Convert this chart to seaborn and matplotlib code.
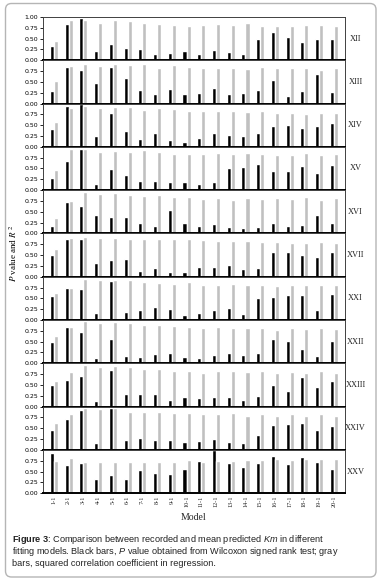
import matplotlib
matplotlib.use("Agg")
import matplotlib.pyplot as plt
import seaborn as sns
import pandas as pd
from matplotlib.patches import FancyBboxPatch

models = ["1-1", "2-1", "3-1", "4-1", "5-1", "6-1", "7-1", "8-1", "9-1", "10-1",
          "11-1", "12-1", "13-1", "14-1", "15-1", "16-1", "17-1", "18-1", "19-1", "20-1"]
panels = ["XII", "XIII", "XIV", "XV", "XVI", "XVII", "XXI", "XXII", "XXIII", "XXIV", "XXV"]

# black bars: P value (Wilcoxon), gray bars: R^2
p_XII = [0.33, 0.83, 0.98, 0.22, 0.37, 0.29, 0.26, 0.14, 0.16, 0.22, 0.15, 0.24, 0.20, 0.15, 0.48, 0.65, 0.53, 0.43, 0.48, 0.49]
r2_XII = [0.45, 0.92, 0.93, 0.86, 0.94, 0.91, 0.85, 0.83, 0.82, 0.80, 0.82, 0.83, 0.81, 0.85, 0.80, 0.78, 0.80, 0.82, 0.81, 0.80]
p_XIII = [0.29, 0.85, 0.77, 0.48, 0.85, 0.58, 0.32, 0.22, 0.34, 0.22, 0.25, 0.35, 0.22, 0.25, 0.32, 0.55, 0.18, 0.29, 0.68, 0.26]
r2_XIII = [0.51, 0.86, 0.92, 0.86, 0.92, 0.88, 0.91, 0.82, 0.88, 0.85, 0.82, 0.82, 0.82, 0.80, 0.84, 0.81, 0.83, 0.83, 0.78, 0.82]
p_XIV = [0.40, 0.94, 0.98, 0.25, 0.77, 0.36, 0.18, 0.31, 0.15, 0.12, 0.21, 0.33, 0.28, 0.25, 0.31, 0.49, 0.50, 0.44, 0.48, 0.56]
r2_XIV = [0.58, 0.89, 0.94, 0.89, 0.92, 0.92, 0.84, 0.89, 0.88, 0.82, 0.82, 0.83, 0.82, 0.80, 0.82, 0.77, 0.79, 0.76, 0.78, 0.78]
p_XV = [0.27, 0.68, 0.95, 0.15, 0.48, 0.35, 0.20, 0.21, 0.19, 0.19, 0.15, 0.19, 0.52, 0.53, 0.60, 0.45, 0.43, 0.56, 0.40, 0.59]
r2_XV = [0.46, 0.95, 0.95, 0.87, 0.90, 0.88, 0.92, 0.87, 0.84, 0.84, 0.84, 0.85, 0.83, 0.85, 0.84, 0.80, 0.82, 0.85, 0.80, 0.84]
p_XVI = [0.18, 0.72, 0.64, 0.42, 0.37, 0.38, 0.24, 0.16, 0.54, 0.23, 0.18, 0.22, 0.15, 0.13, 0.15, 0.25, 0.18, 0.19, 0.42, 0.25]
r2_XVI = [0.35, 0.75, 0.96, 0.92, 0.94, 0.89, 0.87, 0.88, 0.83, 0.84, 0.80, 0.81, 0.78, 0.81, 0.79, 0.82, 0.80, 0.83, 0.77, 0.82]
p_XVII = [0.49, 0.86, 0.86, 0.32, 0.38, 0.41, 0.14, 0.19, 0.10, 0.12, 0.23, 0.23, 0.28, 0.18, 0.20, 0.56, 0.58, 0.50, 0.46, 0.58]
r2_XVII = [0.63, 0.90, 0.92, 0.90, 0.89, 0.88, 0.88, 0.87, 0.86, 0.86, 0.85, 0.82, 0.82, 0.82, 0.81, 0.81, 0.79, 0.78, 0.81, 0.79]
p_XXI = [0.55, 0.74, 0.71, 0.16, 0.91, 0.19, 0.24, 0.30, 0.25, 0.12, 0.16, 0.22, 0.28, 0.13, 0.51, 0.53, 0.58, 0.58, 0.22, 0.59]
r2_XXI = [0.62, 0.74, 0.95, 0.93, 0.93, 0.92, 0.88, 0.86, 0.84, 0.88, 0.82, 0.82, 0.84, 0.82, 0.81, 0.78, 0.82, 0.81, 0.82, 0.81]
p_XXII = [0.49, 0.83, 0.72, 0.12, 0.55, 0.18, 0.14, 0.21, 0.24, 0.15, 0.13, 0.20, 0.23, 0.20, 0.23, 0.55, 0.52, 0.32, 0.18, 0.51]
r2_XXII = [0.62, 0.85, 0.97, 0.93, 0.95, 0.94, 0.89, 0.88, 0.86, 0.83, 0.82, 0.83, 0.82, 0.81, 0.82, 0.78, 0.81, 0.80, 0.82, 0.80]
p_XXIII = [0.49, 0.62, 0.71, 0.12, 0.85, 0.28, 0.28, 0.28, 0.16, 0.22, 0.19, 0.23, 0.23, 0.15, 0.25, 0.50, 0.35, 0.68, 0.45, 0.59]
r2_XXIII = [0.60, 0.81, 0.95, 0.91, 0.93, 0.91, 0.88, 0.87, 0.83, 0.83, 0.78, 0.83, 0.83, 0.79, 0.83, 0.77, 0.80, 0.78, 0.83, 0.78]
p_XXIV = [0.45, 0.72, 0.92, 0.17, 0.97, 0.22, 0.28, 0.24, 0.22, 0.18, 0.21, 0.25, 0.18, 0.15, 0.34, 0.58, 0.60, 0.62, 0.45, 0.55]
r2_XXIV = [0.62, 0.82, 0.97, 0.94, 0.97, 0.87, 0.87, 0.87, 0.85, 0.85, 0.82, 0.83, 0.85, 0.79, 0.83, 0.78, 0.82, 0.78, 0.82, 0.79]
p_XXV = [0.92, 0.66, 0.70, 0.33, 0.41, 0.33, 0.53, 0.47, 0.45, 0.57, 0.75, 1.00, 0.69, 0.60, 0.70, 0.85, 0.68, 0.83, 0.72, 0.57]
r2_XXV = [0.75, 0.82, 0.73, 0.72, 0.71, 0.72, 0.72, 0.72, 0.72, 0.77, 0.72, 0.74, 0.75, 0.76, 0.77, 0.79, 0.77, 0.79, 0.79, 0.79]

p_all = [p_XII, p_XIII, p_XIV, p_XV, p_XVI, p_XVII, p_XXI, p_XXII, p_XXIII, p_XXIV, p_XXV]
r2_all = [r2_XII, r2_XIII, r2_XIV, r2_XV, r2_XVI, r2_XVII, r2_XXI, r2_XXII, r2_XXIII, r2_XXIV, r2_XXV]

sns.set_style("white")
plt.rcParams["mathtext.fontset"] = "custom"
plt.rcParams["mathtext.rm"] = "Liberation Sans"
plt.rcParams["mathtext.it"] = "Liberation Sans:italic"
plt.rcParams["mathtext.bf"] = "Liberation Sans:bold"

fig, axes = plt.subplots(len(panels), 1, sharex=True, figsize=(3.87, 5.83), dpi=100)
fig.subplots_adjust(left=0.111, right=0.891, top=0.971, bottom=0.154, hspace=0)

for i, (ax, name) in enumerate(zip(axes, panels)):
    df = pd.DataFrame({
        "Model": models * 2,
        "value": p_all[i] + r2_all[i],
        "kind": ["P"] * len(models) + ["R2"] * len(models),
    })
    sns.barplot(data=df, x="Model", y="value", hue="kind", palette=["black", "#c0c0c0"],
                width=0.55, saturation=1, errorbar=None, legend=False, ax=ax)
    ax.set_ylim(0, 1)
    ax.set_xlim(-0.74, 19.74)
    ticks = [0, 0.25, 0.5, 0.75, 1.0] if i == 0 else [0, 0.25, 0.5, 0.75]
    ax.set_yticks(ticks)
    ax.set_yticklabels([f"{t:.2f}" for t in ticks], fontsize=4.5, family="DejaVu Sans")
    ax.tick_params(axis="y", left=True, length=2, width=0.6, pad=1.5, colors="black")
    ax.tick_params(axis="x", bottom=False, length=0)
    ax.set_ylabel("")
    ax.set_xlabel("")
    for side in ["left", "right", "top"]:
        ax.spines[side].set_color("#404040")
        ax.spines[side].set_linewidth(0.7)
    ax.spines["bottom"].set_color("black")
    ax.spines["bottom"].set_linewidth(1.4)
    ax.text(1.036, 0.5, name, transform=ax.transAxes, ha="center", va="center",
            fontsize=6, family="Liberation Serif")

axes[-1].set_xticks(range(len(models)))
axes[-1].set_xticklabels(models, rotation=90, fontsize=4.5, family="Liberation Serif")
axes[-1].tick_params(axis="x", pad=2)

fig.text(194 / 387, 1 - 517 / 583, "Model", ha="center", va="center",
         fontsize=7, family="Liberation Serif")
fig.text(13 / 387, 1 - 253 / 583, r"$P$ value and $R^{\ 2}$", rotation=90, ha="center", va="center",
         fontsize=6.5, family="Liberation Serif", math_fontfamily="stix", color="black")

caption = [
    r"$\mathbf{Figure\ 3}$: Comparison between recorded and mean predicted $\mathit{Km}$ in different",
    r"fitting models. Black bars, $\mathit{P}$ value obtained from Wilcoxon signed rank test; gray",
    "bars, squared correlation coefficient in regression.",
]
for k, line in enumerate(caption):
    fig.text(11.5 / 387, 1 - (540 + 11.7 * k) / 583, line, ha="left", va="center",
             fontsize=6.6, family="Liberation Sans", color="#222222")

fig.add_artist(FancyBboxPatch((5.5, 6), 370.5, 573.5, boxstyle="round,pad=0,rounding_size=6",
                              transform=None, fill=False, edgecolor="#b5b5b5", linewidth=1))

fig.savefig("out.png", dpi=100)
